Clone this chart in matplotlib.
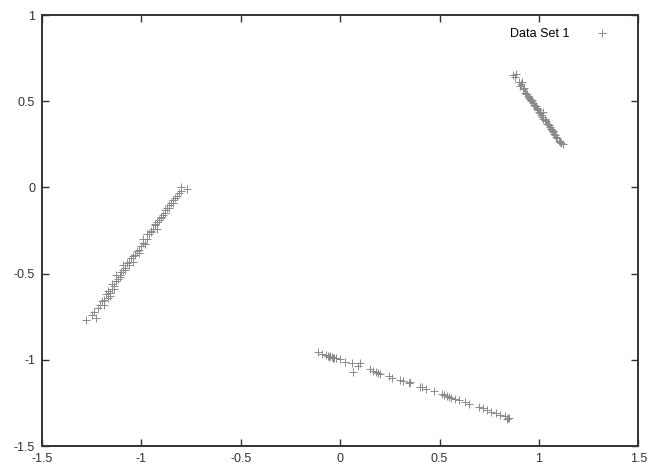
import matplotlib
matplotlib.use('Agg')
import matplotlib.pyplot as plt

plt.rcParams['font.family'] = ['Liberation Sans', 'DejaVu Sans']

# left cluster
x1 = [-1.28, -1.25, -1.24, -1.23, -1.22, -1.21, -1.20, -1.19, -1.18, -1.17,
      -1.17, -1.16, -1.15, -1.15, -1.14, -1.13, -1.13, -1.12, -1.11, -1.10,
      -1.09, -1.09, -1.08, -1.07, -1.06, -1.05, -1.04, -1.03, -1.02, -1.01,
      -1.00, -0.99, -0.98, -0.97, -0.97, -0.96, -0.95, -0.94, -0.93, -0.92,
      -0.92, -0.91, -0.90, -0.89, -0.88, -0.87, -0.86, -0.86, -0.85, -0.84,
      -0.83, -0.82, -0.81, -0.80, -0.80, -0.77, -1.19, -1.14, -1.11, -1.06,
      -1.04, -0.99, -0.95, -0.90, -0.88, -0.84, -1.16, -1.08, -1.01, -0.93]
y1 = [-0.77, -0.74, -0.72, -0.76, -0.70, -0.68, -0.66, -0.65, -0.62, -0.64,
      -0.60, -0.61, -0.59, -0.56, -0.57, -0.54, -0.51, -0.53, -0.51, -0.49,
      -0.48, -0.45, -0.47, -0.44, -0.43, -0.41, -0.43, -0.39, -0.37, -0.36,
      -0.34, -0.32, -0.33, -0.30, -0.27, -0.27, -0.26, -0.24, -0.22, -0.24,
      -0.20, -0.19, -0.18, -0.16, -0.15, -0.12, -0.12, -0.10, -0.09, -0.07,
      -0.06, -0.05, -0.03, -0.02, 0.00, -0.01, -0.68, -0.59, -0.52, -0.45,
      -0.40, -0.30, -0.25, -0.17, -0.13, -0.09, -0.63, -0.48, -0.38, -0.21]

# upper right cluster
x2 = [0.87, 0.88, 0.885, 0.90, 0.905, 0.91, 0.92, 0.925, 0.93, 0.935,
      0.94, 0.945, 0.95, 0.955, 0.96, 0.965, 0.97, 0.975, 0.98, 0.985,
      0.99, 0.995, 1.00, 1.005, 1.01, 1.02, 1.015, 1.02, 1.03, 1.035,
      1.04, 1.045, 1.05, 1.055, 1.06, 1.065, 1.07, 1.075, 1.08, 1.085,
      1.09, 1.10, 1.105, 1.11, 1.12, 0.916, 0.96, 0.99, 1.03, 1.07]
y2 = [0.65, 0.64, 0.66, 0.61, 0.59, 0.60, 0.57, 0.575, 0.55, 0.545,
      0.54, 0.53, 0.52, 0.515, 0.50, 0.505, 0.49, 0.48, 0.47, 0.47,
      0.46, 0.45, 0.44, 0.43, 0.42, 0.44, 0.41, 0.40, 0.39, 0.385,
      0.37, 0.37, 0.36, 0.35, 0.34, 0.335, 0.32, 0.31, 0.305, 0.29,
      0.285, 0.27, 0.265, 0.26, 0.25, 0.61, 0.51, 0.455, 0.40, 0.33]

# bottom cluster
x3 = [-0.11, -0.09, -0.07, -0.06, -0.05, -0.04, -0.03, -0.02, 0.00, 0.025,
      0.06, 0.065, 0.09, 0.15, 0.166, 0.18, 0.19, 0.247, 0.26, 0.30,
      0.317, 0.347, 0.40, 0.41, 0.43, 0.47, 0.51, 0.52, 0.54, 0.55,
      0.58, 0.60, 0.63, 0.65, 0.70, 0.72, 0.74, 0.76, 0.785, 0.805,
      0.83, 0.846, 0.85, -0.055, -0.035, 0.10, 0.20, 0.35, 0.56, 0.84]
y3 = [-0.955, -0.965, -0.970, -0.975, -0.980, -0.985, -0.988, -0.992, -0.998, -1.010,
      -1.020, -1.070, -1.035, -1.055, -1.065, -1.070, -1.075, -1.095, -1.103, -1.115,
      -1.125, -1.137, -1.155, -1.160, -1.170, -1.183, -1.200, -1.205, -1.210, -1.215,
      -1.228, -1.235, -1.245, -1.255, -1.272, -1.282, -1.290, -1.300, -1.308, -1.318,
      -1.325, -1.335, -1.338, -0.985, -0.992, -1.020, -1.085, -1.130, -1.220, -1.342]

xticks = [-1.5, -1, -0.5, 0, 0.5, 1, 1.5]
yticks = [-1.5, -1, -0.5, 0, 0.5, 1]

fig = plt.figure(figsize=(6.51, 4.71), dpi=100)
ax = fig.add_axes([0.0645, 0.053, 0.916, 0.915])

xs = x1 + x2 + x3
ys = y1 + y2 + y3
ax.plot(xs, ys, linestyle='none', marker='+', markersize=6, markeredgewidth=0.7,
        color='#8a8a8a', label='Data Set 1')

ax.set_xlim(-1.5, 1.5)
ax.set_ylim(-1.5, 1)
ax.set_xticks(xticks)
ax.set_xticklabels(['-1.5', '-1', '-0.5', '0', '0.5', '1', '1.5'])
ax.set_yticks(yticks)
ax.set_yticklabels(['-1.5', '-1', '-0.5', '0', '0.5', '1'])
ax.tick_params(direction='in', length=5, width=1, top=True, right=True,
               labelsize=9, colors='#333333', pad=5)
for sp in ax.spines.values():
    sp.set_linewidth(1.4)
    sp.set_color('#333333')

ax.legend(loc='upper right', frameon=False, markerfirst=False, fontsize=9,
          handletextpad=1.6, borderaxespad=0.3, bbox_to_anchor=(0.975, 0.99))

fig.savefig('out.png', dpi=100)
